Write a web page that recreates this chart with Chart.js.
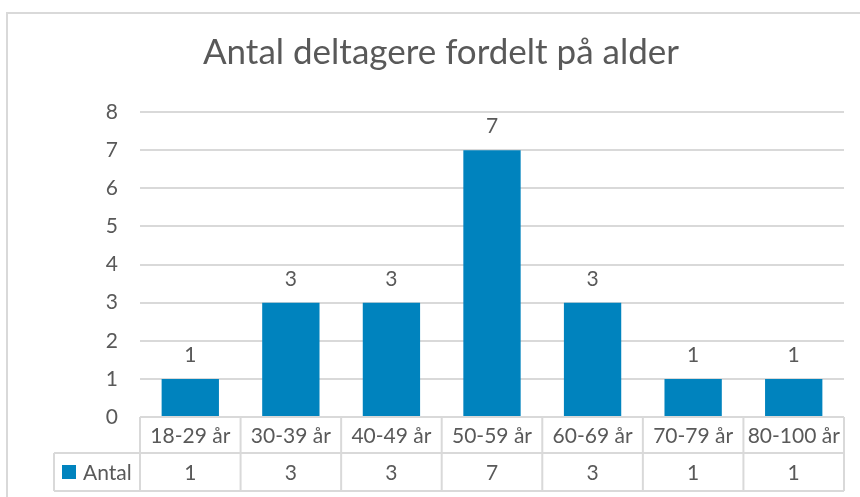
<!DOCTYPE html>
<html>
<head>
<meta charset="utf-8">
<script src="https://cdn.jsdelivr.net/npm/chart.js@4"></script>
<style>
  body { margin: 0; background: #fff; }
  #wrap { width: 860px; height: 497px; }
</style>
</head>
<body>
<div id="wrap"><canvas id="myChart" width="860" height="497"></canvas></div>
<script>
var categories = ['18-29 år', '30-39 år', '40-49 år', '50-59 år', '60-69 år', '70-79 år', '80-100 år'];
var antal = [1, 3, 3, 7, 3, 1, 1];
var seriesName = 'Antal';
var yTicks = [0, 1, 2, 3, 4, 5, 6, 7, 8];
var titleText = 'Antal deltagere fordelt på alder';

var barColor = 'rgb(0, 131, 190)';
var textColor = '#595959';
var lineColor = '#D9D9D9';
var fontFamily = 'Lato, "Open Sans", sans-serif';

// frame around the whole chart (top + left edges visible) and the title
var framePlugin = {
  id: 'frame',
  beforeDraw: function (chart) {
    var c = chart.ctx;
    c.save();
    c.fillStyle = '#fff';
    c.fillRect(0, 0, chart.width, chart.height);
    c.strokeStyle = lineColor;
    c.lineWidth = 2;
    c.strokeRect(7, 13, 900, 600);

    // title sits centred on the whole frame, like Excel does
    c.fillStyle = textColor;
    c.font = '35px ' + fontFamily;
    c.textAlign = 'center';
    c.textBaseline = 'alphabetic';
    c.fillText(titleText, 441, 64);
    c.restore();
  }
};

// value labels above the bars
var labelPlugin = {
  id: 'barLabels',
  afterDatasetsDraw: function (chart) {
    var c = chart.ctx;
    var meta = chart.getDatasetMeta(0);
    c.save();
    c.fillStyle = textColor;
    c.font = '21px ' + fontFamily;
    c.textAlign = 'center';
    c.textBaseline = 'alphabetic';
    meta.data.forEach(function (bar, i) {
      c.fillText(chart.data.datasets[0].data[i], bar.x, bar.y - 17);
    });
    c.restore();
  }
};

// Excel style data table under the plot
var tablePlugin = {
  id: 'dataTable',
  afterDraw: function (chart) {
    var c = chart.ctx;
    var area = chart.chartArea;
    var xs = chart.scales.x;
    var n = categories.length;
    var colW = (area.right - area.left) / n;
    var top = area.bottom;
    var mid = top + 36;
    var bot = mid + 38;
    var legendLeft = 54;

    c.save();
    c.strokeStyle = lineColor;
    c.lineWidth = 2;
    c.beginPath();
    c.moveTo(area.left, top); c.lineTo(area.right, top);
    c.moveTo(legendLeft, mid); c.lineTo(area.right, mid);
    c.moveTo(legendLeft, bot); c.lineTo(area.right, bot);
    c.moveTo(legendLeft, mid); c.lineTo(legendLeft, bot);
    for (var i = 0; i <= n; i++) {
      var x = area.left + i * colW;
      c.moveTo(x, top); c.lineTo(x, bot);
    }
    c.stroke();

    c.fillStyle = textColor;
    c.font = '21px ' + fontFamily;
    c.textAlign = 'center';
    c.textBaseline = 'middle';
    for (var j = 0; j < n; j++) {
      var cx = xs.getPixelForValue(j);
      c.fillText(categories[j], cx, (top + mid) / 2 + 1);
      c.fillText(String(antal[j]), cx, (mid + bot) / 2 + 1);
    }

    c.fillStyle = barColor;
    c.fillRect(62, (mid + bot) / 2 - 7, 14, 14);
    c.fillStyle = textColor;
    c.textAlign = 'left';
    c.fillText(seriesName, 83, (mid + bot) / 2 + 1);
    c.restore();
  }
};

var ctx = document.getElementById('myChart');
var myChart = new Chart(ctx, {
  type: 'bar',
  data: {
    labels: categories,
    datasets: [{
      label: seriesName,
      data: antal,
      backgroundColor: barColor,
      barPercentage: 0.57,
      categoryPercentage: 1
    }]
  },
  options: {
    responsive: false,
    animation: false,
    layout: { padding: { left: 0, right: 16, top: 112, bottom: 80 } },
    plugins: {
      legend: { display: false },
      tooltip: { enabled: false },
      title: { display: false }
    },
    scales: {
      x: { display: false },
      y: {
        min: yTicks[0],
        max: yTicks[yTicks.length - 1],
        afterFit: function (scale) { scale.width = 140; },
        afterBuildTicks: function (scale) {
          scale.ticks = yTicks.map(function (v) { return { value: v }; });
        },
        ticks: {
          color: textColor,
          font: { family: fontFamily, size: 21 },
          padding: 22
        },
        grid: { color: lineColor, lineWidth: 2, drawTicks: false },
        border: { display: false }
      }
    }
  },
  plugins: [framePlugin, labelPlugin, tablePlugin]
});
</script>
</body>
</html>
